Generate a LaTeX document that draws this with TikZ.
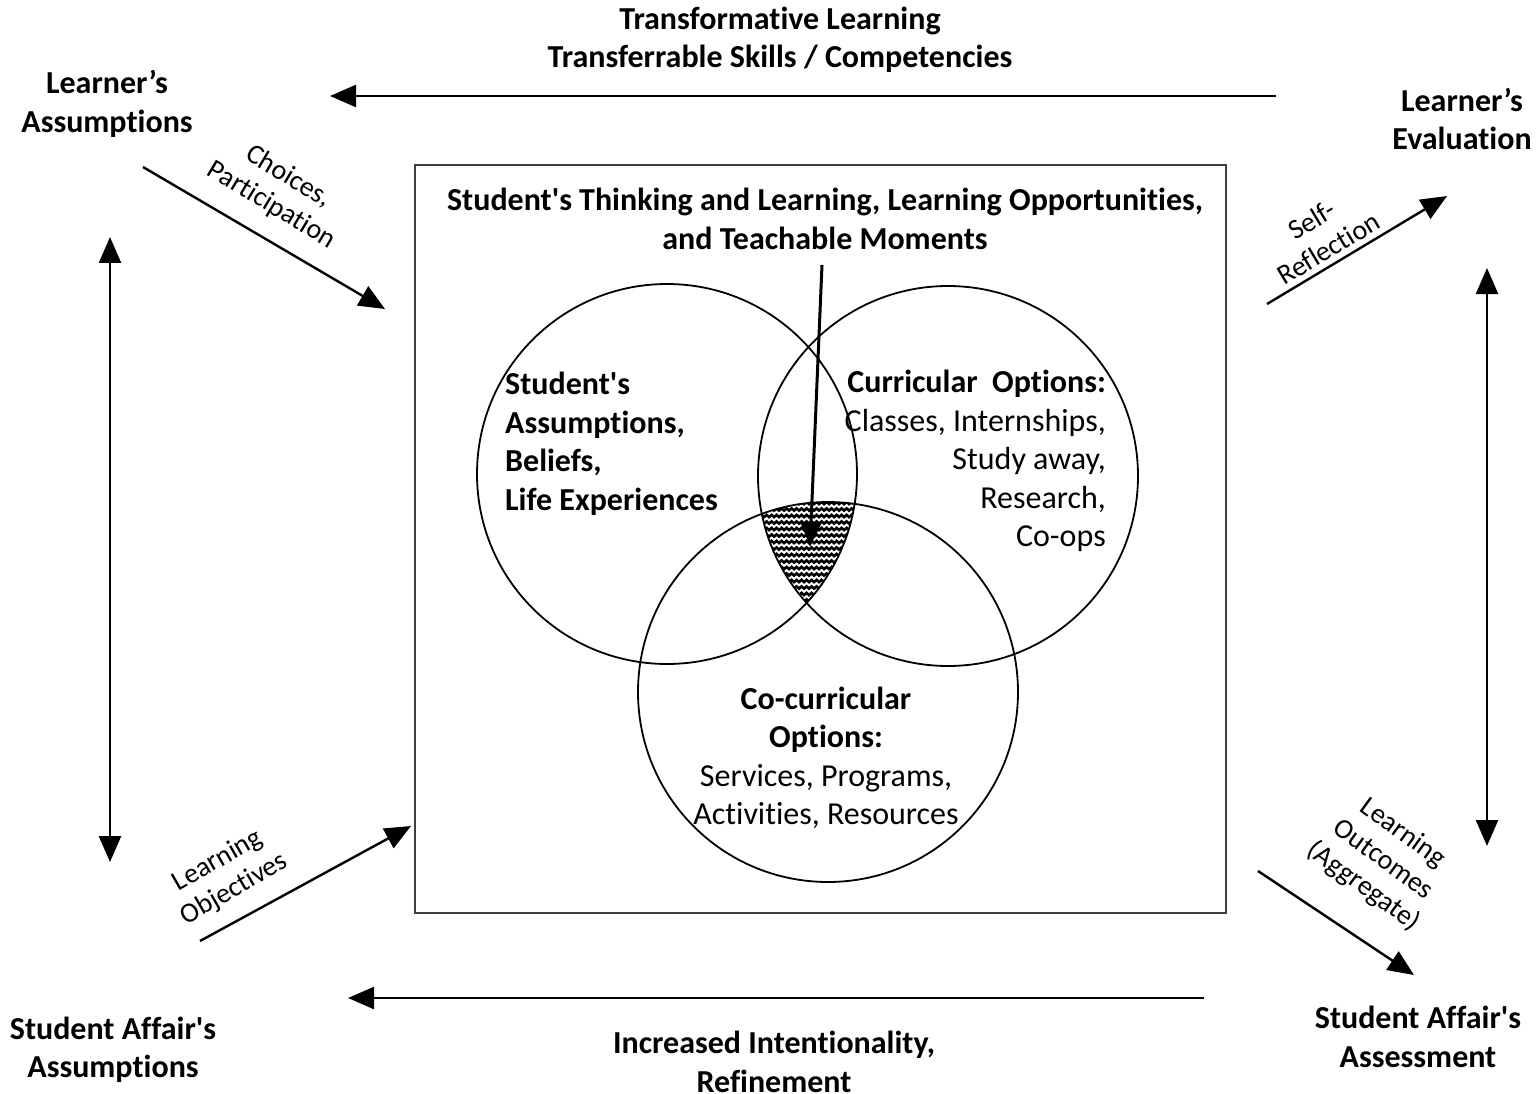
\documentclass[tikz,border=0pt]{standalone}
\usepackage{fontspec}
\defaultfontfeatures{}
\defaultfontfeatures[\rmfamily]{}
\setmainfont{Carlito}[Ligatures={NoCommon}]
\usetikzlibrary{arrows.meta,decorations.pathmorphing}
\begin{document}
\begin{tikzpicture}[x=1pt,y=-1pt,
  big/.style={font=\fontsize{32}{38.5}\selectfont, inner sep=0pt},
  bigb/.style={big, font=\fontsize{32}{38.5}\selectfont\bfseries},
  small/.style={font=\fontsize{28}{33}\selectfont, inner sep=0pt, align=center},
  arr/.style={line width=2.4pt, -{Triangle[length=26pt,width=22pt]}},
  darr/.style={line width=2.4pt, {Triangle[length=26pt,width=22pt]}-{Triangle[length=26pt,width=22pt]}},
  ring/.style={line width=1.8pt, draw=black},
  stripe/.style={line width=2.6pt, decorate, decoration={snake, segment length=5pt, amplitude=1.1pt}}
]
\useasboundingbox (0,0) rectangle (1537,1094);
\fill[white] (0,0) rectangle (1537,1094);

% frame
\draw[line width=1.3pt, draw=black!75] (415,165) rectangle (1226,913);

% circles
\coordinate (c1) at (667,474);
\coordinate (c2) at (948,476);
\coordinate (c3) at (828,692);

\begin{scope}
  \clip (c1) circle[radius=190pt];
  \clip (c2) circle[radius=190pt];
  \clip (c3) circle[radius=190pt];
  \foreach \y in {503,509.5,...,612} \draw[stripe] (740,\y) -- (890,\y);
\end{scope}

\draw[ring] (c1) circle[radius=190pt];
\draw[ring] (c2) circle[radius=190pt];
\draw[ring] (c3) circle[radius=190pt];

% titles
\node[bigb, align=center] (top) at (780,40) {Transformative Learning\\Transferrable Skills / Competencies};
\node[bigb, align=center] (bottom) at (774,1062) {Increased Intentionality,\\Refinement};
\node[bigb, align=center] (inner) at (825,219) {Student's Thinking and Learning, Learning Opportunities,\\and Teachable Moments};

% corner labels
\node[bigb, align=center] (la) at (107,104) {Learner’s\\Assumptions};
\node[bigb, align=center] (le) at (1462,119) {Learner’s\\Evaluation};
\node[bigb, align=center] (sa) at (113,1050) {Student Affair's\\Assumptions};
\node[bigb, align=center] (ss) at (1418,1037) {Student Affair's\\Assessment};

% circle texts
\node[bigb, align=left, anchor=west] (t1) at (505,444) {Student's\\Assumptions,\\Beliefs,\\Life Experiences};
\node[big, align=right, anchor=east] (t2) at (1106,461) {\textbf{Curricular\ \ Options:}\\Classes, Internships,\\Study away,\\Research,\\Co-ops};
\node[big, align=center] (t3) at (826,758) {\textbf{Co-curricular}\\\textbf{Options:}\\Services, Programs,\\Activities, Resources};

% horizontal arrows
\coordinate (ta1) at (1276,96);
\coordinate (ta2) at (330,96);
\draw[arr] (ta1) -- (ta2);
\coordinate (ba1) at (1204,998);
\coordinate (ba2) at (348,998);
\draw[arr] (ba1) -- (ba2);

% vertical double arrows
\coordinate (lv1) at (110,237);
\coordinate (lv2) at (110,862);
\draw[darr] (lv1) -- (lv2);
\coordinate (rv1) at (1487,268);
\coordinate (rv2) at (1487,846);
\draw[darr] (rv1) -- (rv2);

% diagonal arrows
\coordinate (d1a) at (143,167);
\coordinate (d1b) at (385,309);
\draw[arr] (d1a) -- (d1b);
\node[small, rotate=-31] (l1) at (280,191) {Choices,\\Participation};

\coordinate (d2a) at (1267,304);
\coordinate (d2b) at (1447,196);
\draw[arr] (d2a) -- (d2b);
\node[small, rotate=31] (l2) at (1320,234) {Self-\\Reflection};

\coordinate (d3a) at (200,941);
\coordinate (d3b) at (411,826);
\draw[arr] (d3a) -- (d3b);
\node[small, rotate=30] (l3) at (226,875) {Learning\\Objectives};

\coordinate (d4a) at (1258,871);
\coordinate (d4b) at (1414,975);
\draw[arr] (d4a) -- (d4b);
\node[small, rotate=-36] (l4) at (1383,860) {Learning\\Outcomes\\(Aggregate)};

% central arrow
\coordinate (ca1) at (822,265);
\coordinate (ca2) at (810,547);
\draw[line width=3pt, -{Triangle[length=24pt,width=20pt]}] (ca1) -- (ca2);
\end{tikzpicture}
\end{document}
